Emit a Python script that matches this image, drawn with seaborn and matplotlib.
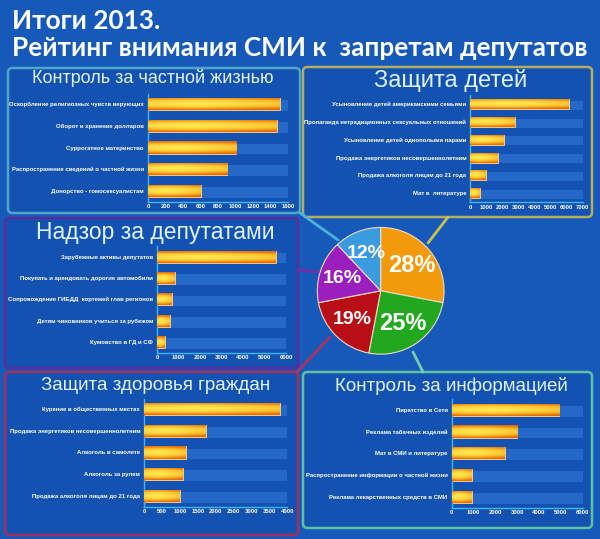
import numpy as np
import seaborn as sns
import matplotlib.pyplot as plt
from matplotlib.patches import FancyBboxPatch
from matplotlib.lines import Line2D

# data
priv_labels = ["Оскорбление религиозных чувств верующих", "Оборот и хранение долларов",
               "Суррогатное материнство", "Распространение сведений о частной жизни",
               "Донорство - гомосексуалистам"]
priv_values = [1505, 1470, 1007, 908, 605]
priv_ticks = [0, 200, 400, 600, 800, 1000, 1200, 1400, 1600]

kids_labels = ["Усыновление детей американскими семьями",
               "Пропаганда нетрадиционных сексуальных отношений",
               "Усыновление детей однополыми парами", "Продажа энергетиков несовершеннолетним",
               "Продажа алкоголя лицам до 21 года", "Мат в  литературе"]
kids_values = [6165, 2780, 2117, 1725, 978, 585]
kids_ticks = [0, 1000, 2000, 3000, 4000, 5000, 6000, 7000]

dep_labels = ["Зарубежные активы депутатов", "Покупать и арендовать дорогие автомобили",
              "Сопровождение ГИБДД  кортежей глав регионов", "Детям чиновников учиться за рубежом",
              "Кумовство в ГД и СФ"]
dep_values = [5533, 825, 671, 606, 345]
dep_ticks = [0, 1000, 2000, 3000, 4000, 5000, 6000]

health_labels = ["Курение в общественных местах", "Продажа энергетиков несовершеннолетним",
                 "Алкоголь в самолете", "Алкоголь за рулем", "Продажа алкоголя лицам до 21 года"]
health_values = [3804, 1717, 1166, 1073, 998]
health_ticks = [0, 500, 1000, 1500, 2000, 2500, 3000, 3500, 4000]

info_labels = ["Пиратство в Сети", "Реклама табачных изделий", "Мат в СМИ и литературе",
               "Распространение информации о частной жизни", "Реклама лекарственных средств в СМИ"]
info_values = [4930, 2990, 2427, 916, 916]
info_ticks = [0, 1000, 2000, 3000, 4000, 5000, 6000]

pie_shares = [28, 25, 19, 16, 12]
pie_colors = ["#f39a0c", "#22a81e", "#b80f17", "#9a1fbd", "#3a9be0"]

BG = "#1659b9"
W, H = 600, 539

sns.set_theme(style="white")
plt.rcParams['font.family'] = ['Liberation Sans', 'DejaVu Sans']

fig = plt.figure(figsize=(6, 5.39), dpi=100, facecolor=BG)


def rect(x0, y0, x1, y1):
    return [x0 / W, 1 - y1 / H, (x1 - x0) / W, (y1 - y0) / H]


def panel(x0, y0, x1, y1, edge):
    p = FancyBboxPatch((x0 / W, 1 - y1 / H), (x1 - x0) / W, (y1 - y0) / H,
                       boxstyle="round,pad=0,rounding_size=0.008",
                       transform=fig.transFigure, facecolor="#1452b2",
                       edgecolor=edge, linewidth=1.8, zorder=0)
    fig.add_artist(p)


def line(x0, y0, x1, y1, color):
    fig.add_artist(Line2D([x0 / W, x1 / W], [1 - y0 / H, 1 - y1 / H],
                          transform=fig.transFigure, color=color, lw=2, zorder=1))


# orange bars with a yellow glow along the middle
grad_v = np.abs(np.linspace(-1, 1, 40))[:, None] ** 2.2
grad_h = np.linspace(0, 1, 60)[None, :]
shade = np.clip(grad_v * 0.95 + 0.5 * np.abs(grad_h - 0.35) ** 1.5, 0, 1)
bar_cmap = sns.blend_palette(["#ffe850", "#fbbd2c", "#f08a12", "#e06a08"], as_cmap=True)


def bar_chart(box, labels, values, ticks):
    ax = fig.add_axes(rect(*box))
    ax.set_facecolor("none")
    xmax = ticks[-1]
    n = len(values)
    for i in range(n):
        ax.axhspan(i - 0.18, i + 0.32, xmin=0, xmax=1, color="#2d72cf", alpha=0.7, lw=0, zorder=0)
    sns.barplot(x=values, y=labels, orient="h", ax=ax, color="#f39a12",
                width=0.56, edgecolor="#f2c890", linewidth=0.7, zorder=2)
    for p in ax.patches:
        bb = p.get_bbox()
        im = ax.imshow(shade, cmap=bar_cmap, extent=[bb.x0, bb.x1, bb.y1, bb.y0],
                       aspect="auto", zorder=3, vmin=0, vmax=1)
        im.set_clip_path(p)
    ax.set_xlim(0, xmax)
    ax.set_ylim(n - 0.5, -0.5)
    ax.set_xticks(ticks)
    ax.set_xticklabels([str(t) for t in ticks], fontsize=4.2, color="white", fontweight="bold")
    ax.set_yticklabels(labels, fontsize=4.3, color="white", fontweight="bold")
    ax.set_xlabel("")
    ax.set_ylabel("")
    for s in ["top", "right"]:
        ax.spines[s].set_visible(False)
    for s in ["left", "bottom"]:
        ax.spines[s].set_color("#3fb8f0")
        ax.spines[s].set_linewidth(1.0)
    ax.tick_params(axis="x", length=2, width=0.6, color="#3fb8f0", pad=2, direction="in")
    ax.tick_params(axis="y", length=0, pad=3)
    return ax


# panels
panel(8, 68, 300, 213, "#4fa6c8")
panel(303, 67, 592, 217, "#b3ae62")
panel(5, 218, 298, 368, "#5a2c9c")
panel(5, 372, 298, 535, "#a0305e")
panel(303, 372, 592, 528, "#5fc0a6")

# connectors from the pie
line(300, 213, 338, 240, "#4fb0e0")
line(448, 217, 428, 243, "#c8c050")
line(298, 270, 318, 272, "#7030a8")
line(330, 337, 297, 372, "#b03060")
line(413, 352, 423, 372, "#70d0b0")

bar_chart((148, 93.5, 288, 201.5), priv_labels, priv_values, priv_ticks)
bar_chart((470.3, 95, 582.7, 202.3), kids_labels, kids_values, kids_ticks)
bar_chart((157.3, 246, 286, 352.7), dep_labels, dep_values, dep_ticks)
bar_chart((144.3, 398.5, 287.3, 506.5), health_labels, health_values, health_ticks)
bar_chart((451.7, 399, 582.7, 507.5), info_labels, info_values, info_ticks)

title_col = "#dff4ff"
for txt, x, y, size in [("Контроль за частной жизнью", 153, 78, 13),
                        ("Защита детей", 451, 80, 17),
                        ("Надзор за депутатами", 155, 232, 16.5),
                        ("Защита здоровья граждан", 156, 385, 13.5),
                        ("Контроль за информацией", 451, 386, 13.5)]:
    fig.text(x / W, 1 - y / H, txt, ha="center", va="center", fontsize=size, color=title_col)

fig.text(12 / W, 1 - 21 / H, "Итоги 2013.", ha="left", va="center", fontsize=18.8,
         color="white", fontweight="bold", family=["Lato", "DejaVu Sans"])
fig.text(12 / W, 1 - 48 / H, "Рейтинг внимания СМИ к  запретам депутатов", ha="left",
         va="center", fontsize=18.8, color="white", fontweight="bold", family=["Lato", "DejaVu Sans"])

# pie
pax = fig.add_axes(rect(316.7, 226.8, 444.7, 354.8))
wedges, texts, autotexts = pax.pie(pie_shares, colors=pie_colors, startangle=90,
                                   counterclock=False, autopct="%d%%", pctdistance=0.63,
                                   wedgeprops=dict(edgecolor="#f0d8c0", linewidth=0.8))
for t, v in zip(autotexts, pie_shares):
    t.set_color("white")
    t.set_fontweight("bold")
    t.set_fontsize(17 if v >= 25 else 14)
pax.set_xlim(-1.01, 1.01)
pax.set_ylim(-1.01, 1.01)
pax.set_aspect("equal")

fig.savefig("out.png", dpi=100, facecolor=BG)
